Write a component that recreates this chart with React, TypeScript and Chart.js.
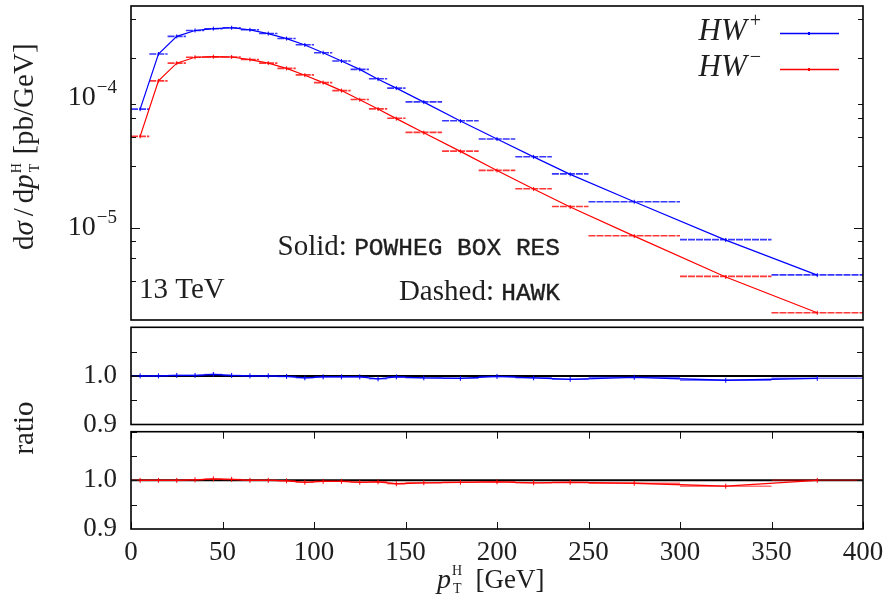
import React, { useEffect, useRef } from 'react';
import { Chart, registerables } from 'chart.js';

Chart.register(...registerables);

// ---------- data ----------
const binEdges = [0, 10, 20, 30, 40, 50, 60, 70, 80, 90, 100, 110, 120, 130, 140, 150, 170, 190, 210, 230, 250, 300, 350, 400];
const binCenters = [5, 15, 25, 35, 45, 55, 65, 75, 85, 95, 105, 115, 125, 135, 145, 160, 180, 200, 220, 240, 275, 325, 375];

// HAWK (dashed, histogram bins)
const hawkWplus = [8.15e-5, 2.15e-4, 2.93e-4, 3.25e-4, 3.35e-4, 3.41e-4, 3.29e-4, 3.08e-4, 2.82e-4, 2.53e-4, 2.20e-4, 1.90e-4, 1.64e-4, 1.39e-4, 1.18e-4, 9.26e-5, 6.64e-5, 4.82e-5, 3.53e-5, 2.61e-5, 1.60e-5, 8.22e-6, 4.42e-6];
const hawkWminus = [5.05e-5, 1.34e-4, 1.83e-4, 2.03e-4, 2.04e-4, 2.04e-4, 1.95e-4, 1.83e-4, 1.67e-4, 1.49e-4, 1.30e-4, 1.13e-4, 9.66e-5, 8.19e-5, 6.95e-5, 5.42e-5, 3.90e-5, 2.78e-5, 2.01e-5, 1.47e-5, 8.79e-6, 4.31e-6, 2.27e-6];

// POWHEG BOX RES (solid, bin centres)
const powhegWplus = [8.15e-5, 2.15e-4, 2.93e-4, 3.25e-4, 3.36e-4, 3.41e-4, 3.29e-4, 3.08e-4, 2.82e-4, 2.52e-4, 2.20e-4, 1.90e-4, 1.64e-4, 1.38e-4, 1.18e-4, 9.22e-5, 6.61e-5, 4.82e-5, 3.52e-5, 2.59e-5, 1.60e-5, 8.15e-6, 4.40e-6];
const powhegWminus = [5.05e-5, 1.34e-4, 1.83e-4, 2.03e-4, 2.05e-4, 2.04e-4, 1.95e-4, 1.83e-4, 1.67e-4, 1.48e-4, 1.30e-4, 1.13e-4, 9.62e-5, 8.17e-5, 6.90e-5, 5.39e-5, 3.88e-5, 2.77e-5, 2.00e-5, 1.46e-5, 8.74e-6, 4.26e-6, 2.27e-6];

// ratio POWHEG / HAWK
const ratioWplus = [1.000, 1.000, 1.001, 1.001, 1.003, 1.001, 1.000, 1.000, 0.999, 0.996, 0.998, 0.998, 0.998, 0.994, 0.998, 0.996, 0.995, 0.999, 0.996, 0.993, 0.997, 0.991, 0.995];
const ratioWminus = [1.000, 1.000, 1.000, 1.001, 1.003, 1.002, 1.000, 1.000, 0.999, 0.996, 0.998, 0.998, 0.996, 0.997, 0.993, 0.995, 0.996, 0.997, 0.995, 0.996, 0.994, 0.988, 1.000];

// ticks
const xTicks = [0, 50, 100, 150, 200, 250, 300, 350, 400];
const mainYTicks = [2e-6, 3e-6, 4e-6, 5e-6, 6e-6, 7e-6, 8e-6, 9e-6, 1e-5, 2e-5, 3e-5, 4e-5, 5e-5, 6e-5, 7e-5, 8e-5, 9e-5, 1e-4, 2e-4, 3e-4, 4e-4, 5e-4];
const mainYLabelValues = [1e-5, 1e-4];
const mainYLabelExps = ['\u22125', '\u22124'];
const ratioTicks = [0.9, 0.95, 1.0, 1.05, 1.1];
const ratioLabelled = [0.9, 1.0];

const BLUE = '#0000ff';
const RED = '#ff0000';
const INK = '#1e1e1e';
const SERIF = '"Liberation Serif", "DejaVu Serif", serif';
const MONO = '"Liberation Mono", "DejaVu Sans Mono", monospace';

// ---------- helpers ----------
function stepData(values: number[]) {
  const out: any[] = [];
  values.forEach((v, i) => {
    out.push({ x: binEdges[i], y: v }, { x: binEdges[i + 1], y: v }, { x: binEdges[i + 1], y: null });
  });
  return out;
}
function centreData(values: number[]) {
  return binCenters.map((c, i) => ({ x: c, y: values[i] }));
}

type Seg = { t: string; size: number; style?: string; fam?: string; dy?: number; pre?: number; adv?: boolean; bold?: number };
function segFont(s: Seg) {
  return `${s.style || 'normal'} ${s.size}px ${s.fam || SERIF}`;
}
function richWidth(ctx: CanvasRenderingContext2D, segs: Seg[]) {
  let w = 0;
  for (const s of segs) {
    ctx.font = segFont(s);
    w += (s.pre || 0) + (s.adv === false ? 0 : ctx.measureText(s.t).width);
  }
  return w;
}
function drawRich(ctx: CanvasRenderingContext2D, segs: Seg[], x: number, y: number, align: string) {
  const w = richWidth(ctx, segs);
  let cx = align === 'right' ? x - w : align === 'center' ? x - w / 2 : x;
  ctx.textAlign = 'left';
  ctx.textBaseline = 'alphabetic';
  for (const s of segs) {
    ctx.font = segFont(s);
    cx += s.pre || 0;
    ctx.fillText(s.t, cx, y + (s.dy || 0));
    if (s.bold) {
      ctx.lineWidth = s.bold;
      ctx.strokeStyle = ctx.fillStyle as string;
      ctx.strokeText(s.t, cx, y + (s.dy || 0));
    }
    if (s.adv !== false) cx += ctx.measureText(s.t).width;
  }
}

function framePlugin(cfg: { yMajor: number; yMinor: number; logY: boolean; xLen: number }) {
  return {
    id: 'frameTicks',
    afterDatasetsDraw(chart: any) {
      const { ctx, chartArea: a } = chart;
      ctx.save();
      ctx.strokeStyle = '#111';
      ctx.lineWidth = 1;
      const ys = chart.scales.y;
      for (const t of ys.ticks) {
        const py = Math.round(ys.getPixelForValue(t.value)) + 0.5;
        if (py < a.top || py > a.bottom) continue;
        const isMajor = cfg.logY ? Math.abs(Math.log10(t.value) - Math.round(Math.log10(t.value))) < 1e-6 : true;
        const len = isMajor ? cfg.yMajor : cfg.yMinor;
        ctx.beginPath();
        ctx.moveTo(a.left, py); ctx.lineTo(a.left + len, py);
        ctx.moveTo(a.right, py); ctx.lineTo(a.right - len, py);
        ctx.stroke();
      }
      if (cfg.xLen > 0) {
        const xs = chart.scales.x;
        for (const t of xs.ticks) {
          const px = Math.round(xs.getPixelForValue(t.value)) + 0.5;
          ctx.beginPath();
          ctx.moveTo(px, a.top); ctx.lineTo(px, a.top + cfg.xLen);
          ctx.moveTo(px, a.bottom); ctx.lineTo(px, a.bottom - cfg.xLen);
          ctx.stroke();
        }
      }
      ctx.lineWidth = 1.6;
      ctx.strokeStyle = '#000';
      ctx.strokeRect(a.left, a.top, a.right - a.left, a.bottom - a.top);
      ctx.restore();
    },
  };
}

const mainTextPlugin = {
  id: 'mainText',
  afterDraw(chart: any) {
    const { ctx, chartArea: a } = chart;
    const ys = chart.scales.y;
    ctx.save();
    ctx.fillStyle = INK;
    // y tick labels 10^-n
    mainYLabelValues.forEach((v, i) => {
      const py = ys.getPixelForValue(v);
      drawRich(ctx, [
        { t: '10', size: 28 },
        { t: mainYLabelExps[i], size: 19, dy: -12, pre: 1 },
      ], a.left - 14, py + 7, 'right');
    });
    // y title
    ctx.save();
    ctx.translate(33, 250);
    ctx.rotate(-Math.PI / 2);
    drawRich(ctx, [
      { t: 'd', size: 29 },
      { t: '\u03c3', size: 29, style: 'italic' },
      { t: '/', size: 29, pre: 5 },
      { t: 'd', size: 29, pre: 5 },
      { t: 'p', size: 29, style: 'italic' },
      { t: 'H', size: 14, dy: -12, pre: 1, adv: false },
      { t: 'T', size: 14, dy: 6, pre: 1 },
      { t: '[pb/GeV]', size: 29, pre: 9 },
    ], 0, 0, 'left');
    ctx.restore();
    // annotations
    drawRich(ctx, [{ t: 'Solid: ', size: 29 }, { t: 'POWHEG BOX RES', size: 24.5, fam: MONO, bold: 0.4 }], 560, 255, 'right');
    drawRich(ctx, [{ t: 'Dashed: ', size: 29 }, { t: 'HAWK', size: 24.5, fam: MONO, bold: 0.4 }], 560, 300, 'right');
    drawRich(ctx, [{ t: '13 TeV', size: 29 }], 139, 298, 'left');
    // legend
    const entries = [
      { sup: '+', color: BLUE, ly: 33.5 },
      { sup: '\u2212', color: RED, ly: 69.5 },
    ];
    entries.forEach((e) => {
      ctx.fillStyle = INK;
      drawRich(ctx, [
        { t: 'HW', size: 31, style: 'italic' },
        { t: e.sup, size: 20, dy: -13, pre: 3 },
      ], 761, e.ly + 6.5, 'right');
      ctx.strokeStyle = e.color;
      ctx.lineWidth = 1.3;
      ctx.beginPath();
      ctx.moveTo(780, e.ly); ctx.lineTo(839, e.ly);
      ctx.stroke();
      ctx.fillStyle = e.color;
      ctx.fillRect(808, e.ly - 1.5, 2, 3);
    });
    ctx.restore();
  },
};

const ratioTitlePlugin = {
  id: 'ratioTitle',
  afterDraw(chart: any) {
    const ctx = chart.ctx;
    ctx.save();
    ctx.fillStyle = INK;
    ctx.translate(33, 108);
    ctx.rotate(-Math.PI / 2);
    drawRich(ctx, [{ t: 'ratio', size: 29 }], 0, 0, 'center');
    ctx.restore();
  },
};

const xTitlePlugin = {
  id: 'xTitle',
  afterDraw(chart: any) {
    const ctx = chart.ctx;
    ctx.save();
    ctx.fillStyle = INK;
    drawRich(ctx, [
      { t: 'p', size: 28, style: 'italic' },
      { t: 'H', size: 14, dy: -13, pre: 1, adv: false },
      { t: 'T', size: 14, dy: 5, pre: 1 },
      { t: '[GeV]', size: 27, pre: 14 },
    ], 437, 163, 'left');
    ctx.restore();
  },
};

function ratioDatasets(values: number[], color: string, faded: string) {
  return [
    {
      data: centreData(values),
      borderColor: color,
      borderWidth: 1.3,
      pointStyle: 'line',
      pointRotation: 90,
      pointRadius: 2.5,
      pointBorderColor: color,
      pointBorderWidth: 1,
      tension: 0,
    },
    {
      data: stepData(values),
      borderColor: faded,
      borderWidth: 1.5,
      pointRadius: 0,
      spanGaps: false,
    },
    {
      data: [{ x: binEdges[0], y: 1 }, { x: binEdges[binEdges.length - 1], y: 1 }],
      borderColor: '#000',
      borderWidth: 2,
      pointRadius: 0,
    },
  ];
}

function ratioYScale() {
  return {
    type: 'linear',
    min: 0.9,
    max: 1.1,
    afterBuildTicks: (s: any) => { s.ticks = ratioTicks.map((v) => ({ value: v })); },
    afterFit: (s: any) => { s.width = 131; s.paddingTop = 0; s.paddingBottom = 0; },
    grid: { display: false, drawTicks: false },
    border: { display: false },
    ticks: {
      autoSkip: false,
      font: { family: SERIF, size: 27 },
      color: INK,
      padding: 14,
      callback: (v: any) => (ratioLabelled.some((r) => Math.abs(r - v) < 1e-9) ? Number(v).toFixed(1) : ''),
    },
  };
}

export default function App() {
  const r1 = useRef<HTMLCanvasElement>(null);
  const r2 = useRef<HTMLCanvasElement>(null);
  const r3 = useRef<HTMLCanvasElement>(null);

  useEffect(() => {
    const common = {
      animation: false,
      responsive: false,
      events: [],
      plugins: { legend: { display: false }, tooltip: { enabled: false } },
    };

    const hawkStyle = { borderWidth: 1.6, borderDash: [7, 1], pointRadius: 0, spanGaps: false };

    const main = new Chart(r1.current as HTMLCanvasElement, {
      type: 'line',
      data: {
        datasets: [
          { data: centreData(powhegWplus), borderColor: BLUE, borderWidth: 1.2, pointStyle: 'line', pointRotation: 90, pointRadius: 2, pointBorderColor: BLUE, pointBorderWidth: 1 },
          { data: centreData(powhegWminus), borderColor: RED, borderWidth: 1.2, pointStyle: 'line', pointRotation: 90, pointRadius: 2, pointBorderColor: RED, pointBorderWidth: 1 },
          { data: stepData(hawkWplus), borderColor: 'rgba(20,20,255,0.85)', ...hawkStyle },
          { data: stepData(hawkWminus), borderColor: 'rgba(255,20,20,0.85)', ...hawkStyle },
        ],
      },
      options: {
        ...common,
        layout: { padding: { left: 131, right: 27, top: 6, bottom: 10 } },
        scales: {
          x: { type: 'linear', min: 0, max: 400, display: false },
          y: {
            type: 'logarithmic',
            min: 2e-6,
            max: 5e-4,
            display: false,
            afterBuildTicks: (s: any) => { s.ticks = mainYTicks.map((v) => ({ value: v })); },
          },
        },
      } as any,
      plugins: [framePlugin({ yMajor: 9, yMinor: 5, logY: true, xLen: 0 }), mainTextPlugin],
    } as any);

    const ratio1 = new Chart(r2.current as HTMLCanvasElement, {
      type: 'line',
      data: { datasets: ratioDatasets(ratioWplus, BLUE, 'rgba(0,0,255,0.55)') },
      options: {
        ...common,
        layout: { padding: { left: 0, right: 27, top: 7.3, bottom: 45.5 } },
        scales: {
          x: { type: 'linear', min: 0, max: 400, display: false },
          y: ratioYScale(),
        },
      } as any,
      plugins: [framePlugin({ yMajor: 6, yMinor: 6, logY: false, xLen: 0 }), ratioTitlePlugin],
    } as any);

    const ratio2 = new Chart(r3.current as HTMLCanvasElement, {
      type: 'line',
      data: { datasets: ratioDatasets(ratioWminus, RED, 'rgba(255,0,0,0.55)') },
      options: {
        ...common,
        layout: { padding: { left: 0, right: 27, top: 6.7, bottom: 0 } },
        scales: {
          x: {
            type: 'linear',
            min: 0,
            max: 400,
            afterBuildTicks: (s: any) => { s.ticks = xTicks.map((v) => ({ value: v })); },
            afterFit: (s: any) => { s.height = 69; s.paddingLeft = 0; s.paddingRight = 0; },
            grid: { display: false, drawTicks: false },
            border: { display: false },
            ticks: { autoSkip: false, maxRotation: 0, font: { family: SERIF, size: 27 }, color: INK, padding: 8 },
          },
          y: ratioYScale(),
        },
      } as any,
      plugins: [framePlugin({ yMajor: 6, yMinor: 6, logY: false, xLen: 7 }), xTitlePlugin],
    } as any);

    return () => {
      main.destroy();
      ratio1.destroy();
      ratio2.destroy();
    };
  }, []);

  const abs = (top: number, h: number): React.CSSProperties => ({ position: 'absolute', left: 0, top, width: 890, height: h, display: 'block' });

  return (
    <div style={{ position: 'fixed', left: 0, top: 0, width: 890, height: 598, background: '#fff', overflow: 'hidden' }}>
      <canvas ref={r1} width={890} height={330} style={abs(0, 330)} />
      <canvas ref={r2} width={890} height={150} style={abs(320, 150)} />
      <canvas ref={r3} width={890} height={173} style={abs(425, 173)} />
    </div>
  );
}
